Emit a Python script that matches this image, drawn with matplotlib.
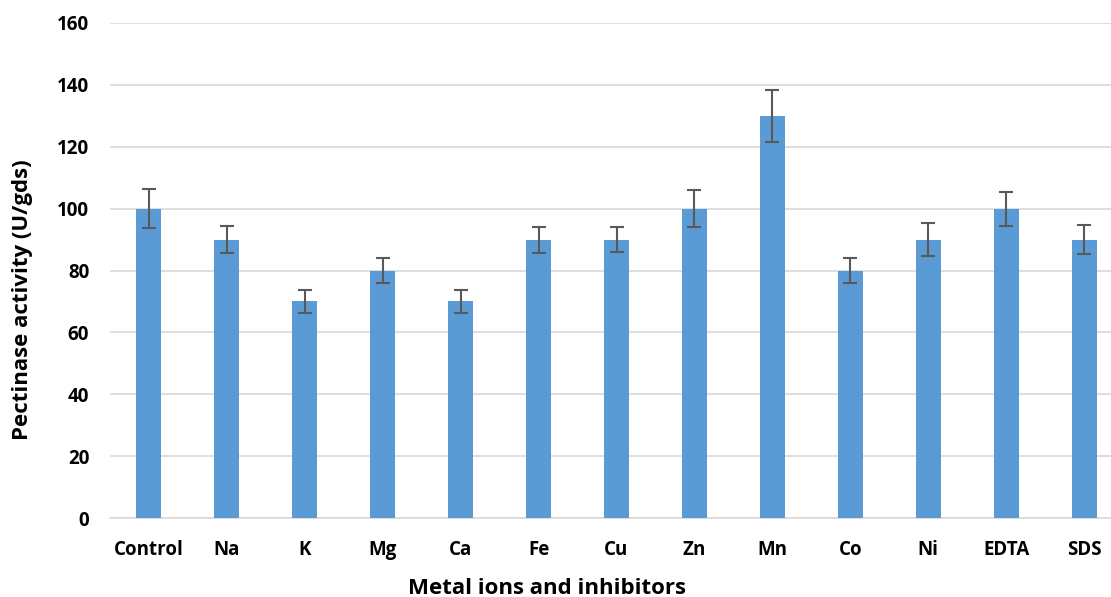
import matplotlib.pyplot as plt
import numpy as np

# data
labels = ['Control', 'Na', 'K', 'Mg', 'Ca', 'Fe', 'Cu', 'Zn', 'Mn', 'Co', 'Ni', 'EDTA', 'SDS']
activity = [100, 90, 70, 80, 70, 90, 90, 100, 130, 80, 90, 100, 90]
err = [6.3, 4.3, 3.8, 4.0, 3.8, 4.2, 4.0, 6.0, 8.4, 4.1, 5.3, 5.5, 4.7]

plt.rcParams['font.family'] = ['Open Sans', 'DejaVu Sans']

fig = plt.figure(figsize=(11.11, 5.97), dpi=100)
ax = fig.add_axes([110/1111, 1-518/597, 1013/1111, 495/597])

x = np.arange(len(labels))
ax.bar(x, activity, width=0.32, color='#5B9BD5', zorder=3,
       yerr=err, capsize=5, error_kw=dict(ecolor='#595959', elinewidth=1.5, capthick=1.5, zorder=4))

ax.set_xlim(-0.5, len(labels)-0.5)
ax.set_ylim(0, 160)
ax.set_yticks(np.arange(0, 161, 20))
ax.yaxis.grid(True, color='#D9D9D9', linewidth=1.2, zorder=0)
ax.set_axisbelow(True)
for s in ['top', 'right', 'left']:
    ax.spines[s].set_visible(False)
ax.spines['bottom'].set_color('#D9D9D9')
ax.spines['bottom'].set_linewidth(1.2)
ax.tick_params(length=0, labelsize=13.5, colors='#000000')
ax.tick_params(axis='x', pad=15.5)
ax.tick_params(axis='y', pad=15)
ax.set_xticks(x)
ax.set_xticklabels(labels, fontweight='bold')
for t in ax.get_yticklabels():
    t.set_fontweight('bold')

fig.text(23/1111, 1-300/597, 'Pectinase activity (U/gds)', rotation=90, fontsize=16,
         fontweight='bold', ha='center', va='center')
fig.text(547/1111, 1-588/597, 'Metal ions and inhibitors', fontsize=16,
         fontweight='bold', ha='center', va='center')

plt.savefig('out.png')
plt.close()
